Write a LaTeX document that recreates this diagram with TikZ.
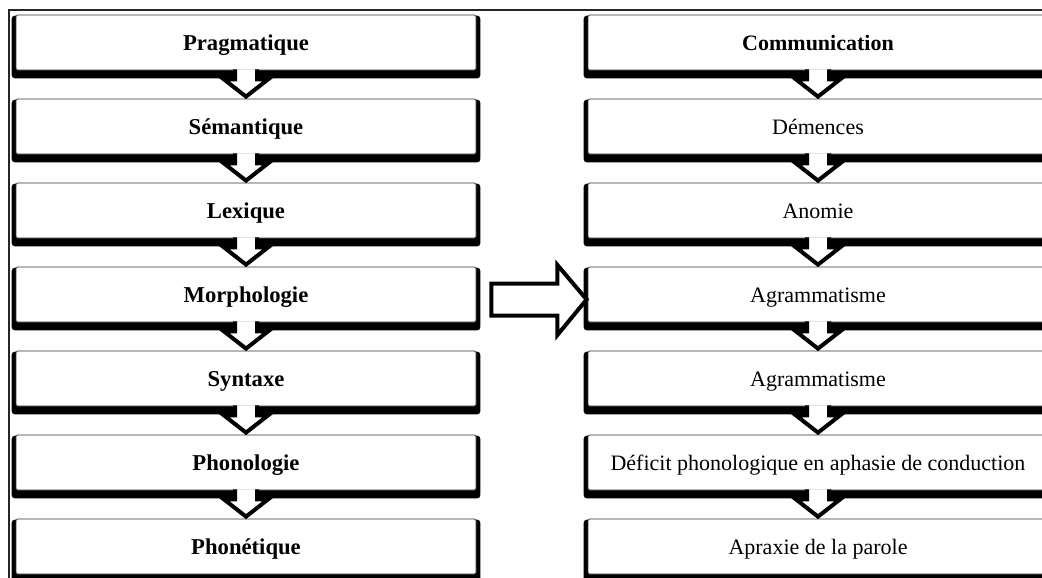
\documentclass[tikz,border=0pt]{standalone}
\usepackage{fontspec}
\setmainfont{Liberation Serif}
\usetikzlibrary{calc,backgrounds}
\begin{document}
\begin{tikzpicture}[x=0.75pt,y=-0.75pt,
  lvl/.style={draw=black!80, line width=0.6pt, fill=white, minimum width=345pt,
    minimum height=41.25pt, inner sep=0pt, rounded corners=1pt,
    text height=12pt, text depth=0pt,
    font=\fontsize{16.5}{19}\selectfont},
  shadowbox/.style={fill=black, rounded corners=2.5pt},
  blockarrow/.style={fill=white, draw=black, line width=3pt, line join=miter},
  frameline/.style={line width=1.1pt, draw=black!85}]
\useasboundingbox (0,0) rectangle (1042,578);
% left column
\foreach \i/\t in {1/Pragmatique,2/Sémantique,3/Lexique,4/Morphologie,5/Syntaxe,6/Phonologie,7/Phonétique}
  \node[lvl, font=\fontsize{17}{19}\selectfont\bfseries] (L\i) at (246,{42.5+84*(\i-1)}) {\t};
% right column
\foreach \i/\t in {1/\textbf{Communication},2/Démences,3/Anomie,4/Agrammatisme,5/Agrammatisme,6/Déficit phonologique en aphasie de conduction,7/Apraxie de la parole}
  \node[lvl] (R\i) at (818,{42.5+84*(\i-1)}) {\t};
\begin{scope}[on background layer]
  \fill[white] (0,0) rectangle (1042,578);
  \draw[frameline] (9,578) -- (9,10) -- (1042,10);
  \foreach \i in {1,...,7} {
    \fill[shadowbox] ($(L\i.north west)+(-4,1)$) rectangle ($(L\i.south east)+(4,8)$);
    \fill[shadowbox] ($(R\i.north west)+(-4,1)$) rectangle ($(R\i.south east)+(4,8)$);
  }
\end{scope}
% down arrows
\foreach \i in {1,...,6} {
  \pgfmathtruncatemacro\j{\i+1}
  \filldraw[blockarrow] ($(L\i.south)+(-11,-1)$) -- ++(0,10) -- ++(-11,0)
    -- ($(L\j.north)+(0,-2)$) -- ($(L\i.south)+(22,9)$) -- ++(-11,0) -- ++(0,-10);
  \filldraw[blockarrow] ($(R\i.south)+(-11,-1)$) -- ++(0,10) -- ++(-11,0)
    -- ($(R\j.north)+(0,-2)$) -- ($(R\i.south)+(22,9)$) -- ++(-11,0) -- ++(0,-10);
}
% big right arrow
\filldraw[blockarrow] ($(L4.east)+(15,-11)$) -- ($(L4.east)+(81,-11)$)
  -- ($(L4.east)+(81,-29.5)$) -- ($(R4.west)+(-1,5)$) -- ($(L4.east)+(81,40.5)$)
  -- ($(L4.east)+(81,21)$) -- ($(L4.east)+(15,21)$) -- cycle;
\end{tikzpicture}
\end{document}
